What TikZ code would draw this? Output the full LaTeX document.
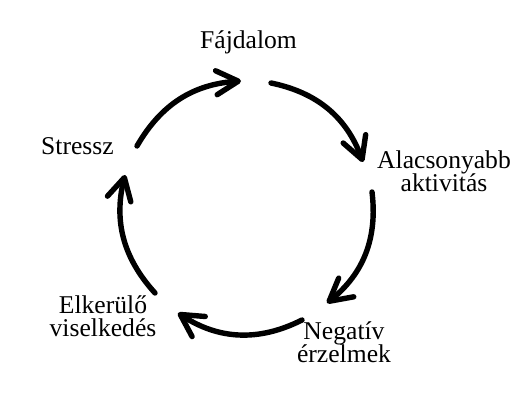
\documentclass[tikz,border=0pt]{standalone}
\usepackage{fontspec}
\setmainfont{Liberation Serif}
\usetikzlibrary{arrows.meta}
\tikzset{
  cyclabel/.style={align=center,anchor=base,inner sep=0pt,font={\fontsize{12.8}{11.8}\selectfont}},
  cycarrow/.style={line width=2.7pt,line cap=round,-{Straight Barb[length=11pt,width=12pt,round]}}
}
\begin{document}
\begin{tikzpicture}[x=0.5pt,y=0.5pt]
\useasboundingbox (0,0) rectangle (523,410);

% labels
\node[cyclabel] (fajdalom) at (248.5,361) {Fájdalom};
\node[cyclabel] (aktivitas) at (444,218) {Alacsonyabb\\aktivitás};
\node[cyclabel] (erzelmek) at (344,47) {Negatív\\érzelmek};
\node[cyclabel] (elkerulo) at (103,73) {Elkerülő\\viselkedés};
\node[cyclabel] (stressz) at (77.5,255) {Stressz};

% ends of the arcs
\coordinate (s1) at (137,264); \coordinate (e1) at (241,329);
\coordinate (s2) at (271,327); \coordinate (e2) at (363,248);
\coordinate (s3) at (372,218); \coordinate (e3) at (327,107);
\coordinate (s4) at (302,90);  \coordinate (e4) at (178,97);
\coordinate (s5) at (155,117); \coordinate (e5) at (125,235);

% cycle
\draw[cycarrow] (s1) to[bend left=28] (e1);
\draw[cycarrow] (s2) to[bend left=29] (e2);
\draw[cycarrow] (s3) to[bend left=29] (e3);
\draw[cycarrow] (s4) to[bend left=30] (e4);
\draw[cycarrow] (s5) to[bend left=28] (e5);

\end{tikzpicture}
\end{document}
